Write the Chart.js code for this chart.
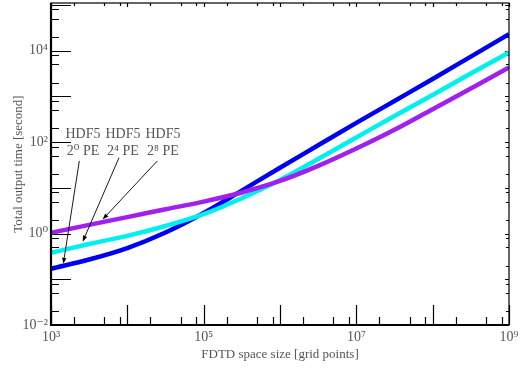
<!DOCTYPE html>
<html>
<head>
<meta charset="utf-8">
<script src="https://cdn.jsdelivr.net/npm/chart.js@4.4.1/dist/chart.umd.min.js"></script>
<style>
  html, body { margin: 0; padding: 0; background: #fff; }
  #wrap { width: 520px; height: 368px; }
</style>
</head>
<body>
<div id="wrap"><canvas id="ioChart" width="520" height="368"></canvas></div>
<script>
// grid sizes (x, half-decade steps) and output times in seconds (y)
const gridSizes = [1e3, 3162, 1e4, 31623, 1e5, 316228, 1e6, 3162278, 1e7, 31622777, 1e8, 316227766, 1e9];
const timePE1 = [0.17, 0.27, 0.48, 1.05, 2.8, 8.7, 27.5, 85, 263, 794, 2400, 7400, 22900];       // HDF5 2^0 PE
const timePE16 = [0.38, 0.59, 0.89, 1.46, 2.65, 5.9, 14.8, 42.7, 126, 372, 1070, 3160, 9120];    // HDF5 2^4 PE
const timePE256 = [1.04, 1.55, 2.29, 3.39, 5.0, 7.9, 14.1, 30.2, 72.4, 186, 525, 1480, 4270];     // HDF5 2^8 PE

const xTickLabels = [1e3, 1e5, 1e7, 1e9];
const yTickLabels = [1e-2, 1e0, 1e2, 1e4];
const minorMantissas = [2, 5, 8];

// annotation labels with arrows (data coords)
const noteLines = [['HDF5', '2⁰ PE'], ['HDF5', '2⁴ PE'], ['HDF5', '2⁸ PE']];
const noteX = [2625, 8770, 29300];
const noteY = [146, 64];
const arrowTail = [[2350, 38.7], [7780, 45.6], [24700, 38.7]];
const arrowHead = [[1450, 0.218], [2600, 0.664], [4750, 2.03]];

const sup = {'-': '⁻', '0': '⁰', '1': '¹', '2': '²', '3': '³', '4': '⁴', '5': '⁵', '6': '⁶', '7': '⁷', '8': '⁸', '9': '⁹'};
function powLabel(v) {
  const e = String(Math.round(Math.log10(v)));
  return '10' + e.split('').map(c => sup[c]).join('');
}

const serif = '"Liberation Serif", "DejaVu Serif", serif';
const grey = '#555';

function toPoints(ys) {
  return gridSizes.map((x, i) => ({x: x, y: ys[i]}));
}

const frameAndNotes = {
  id: 'frameAndNotes',
  beforeDatasetsDraw(chart) {
    const {ctx, chartArea: a, scales: {x, y}} = chart;
    ctx.save();
    ctx.strokeStyle = '#000';
    ctx.lineWidth = 1.2;
    ctx.beginPath();
    // inward ticks, long on left/bottom
    for (let k = -2; k <= 5; k++) {
      const vals = [[Math.pow(10, k), true]].concat(minorMantissas.map(m => [m * Math.pow(10, k), false]));
      vals.forEach(([v, major]) => {
        if (v < y.min || v > y.max) return;
        const py = Math.round(y.getPixelForValue(v)) + 0.5;
        ctx.moveTo(a.left, py); ctx.lineTo(a.left + (major ? 20 : 8), py);
        ctx.moveTo(a.right, py); ctx.lineTo(a.right - (major ? 4 : 3), py);
      });
    }
    for (let k = 3; k <= 9; k++) {
      const vals = [[Math.pow(10, k), true]].concat(minorMantissas.map(m => [m * Math.pow(10, k), false]));
      vals.forEach(([v, major]) => {
        if (v < x.min || v > x.max) return;
        const px = Math.round(x.getPixelForValue(v)) + 0.5;
        ctx.moveTo(px, a.bottom); ctx.lineTo(px, a.bottom - (major ? 20 : 8));
        ctx.moveTo(px, a.top); ctx.lineTo(px, a.top + (major ? 4 : 3));
      });
    }
    ctx.stroke();
    ctx.restore();
  },
  afterDatasetsDraw(chart) {
    const {ctx, chartArea: a, scales: {x, y}} = chart;
    ctx.save();
    // frame
    ctx.strokeStyle = '#000';
    ctx.lineWidth = 1.2;
    ctx.strokeRect(a.left, a.top, a.right - a.left, a.bottom - a.top);
    ctx.lineWidth = 2.2;
    ctx.beginPath();
    ctx.moveTo(a.left, a.top); ctx.lineTo(a.left, a.bottom); ctx.lineTo(a.right, a.bottom);
    ctx.stroke();

    // annotation text
    ctx.fillStyle = grey;
    ctx.font = '14px ' + serif;
    ctx.textAlign = 'center';
    ctx.textBaseline = 'middle';
    noteLines.forEach((lines, i) => {
      const px = x.getPixelForValue(noteX[i]);
      lines.forEach((t, j) => ctx.fillText(t, px, y.getPixelForValue(noteY[j])));
    });

    // arrows
    ctx.strokeStyle = '#000';
    ctx.fillStyle = '#000';
    ctx.lineWidth = 0.9;
    arrowTail.forEach((t, i) => {
      const x0 = x.getPixelForValue(t[0]), y0 = y.getPixelForValue(t[1]);
      const x1 = x.getPixelForValue(arrowHead[i][0]), y1 = y.getPixelForValue(arrowHead[i][1]);
      const ang = Math.atan2(y1 - y0, x1 - x0);
      const len = 6, w = 2.2;
      const bx = x1 - len * Math.cos(ang), by = y1 - len * Math.sin(ang);
      ctx.beginPath();
      ctx.moveTo(x0, y0); ctx.lineTo(bx, by);
      ctx.stroke();
      ctx.beginPath();
      ctx.moveTo(x1, y1);
      ctx.lineTo(bx + w * Math.sin(ang), by - w * Math.cos(ang));
      ctx.lineTo(bx - w * Math.sin(ang), by + w * Math.cos(ang));
      ctx.closePath();
      ctx.fill();
    });
    ctx.restore();
  }
};

const lineStyle = {
  borderWidth: 4.5,
  pointRadius: 0,
  fill: false,
  cubicInterpolationMode: 'monotone'
};

new Chart(document.getElementById('ioChart'), {
  type: 'line',
  data: {
    datasets: [
      Object.assign({label: 'HDF5 2^8 PE', data: toPoints(timePE256), borderColor: '#a020f0'}, lineStyle),
      Object.assign({label: 'HDF5 2^4 PE', data: toPoints(timePE16), borderColor: '#00f0f0'}, lineStyle),
      Object.assign({label: 'HDF5 2^0 PE', data: toPoints(timePE1), borderColor: '#0000f0'}, lineStyle)
    ]
  },
  options: {
    responsive: false,
    animation: false,
    devicePixelRatio: 1,
    layout: {padding: {left: 0, top: 3, right: 11, bottom: 0}},
    plugins: {legend: {display: false}, tooltip: {enabled: false}},
    scales: {
      x: {
        type: 'logarithmic',
        min: 1e3,
        max: 1e9,
        grid: {display: false, drawTicks: false},
        border: {display: false},
        afterBuildTicks(scale) { scale.ticks = xTickLabels.map(v => ({value: v})); },
        afterFit(scale) { scale.height = 43; scale.paddingLeft = 0; scale.paddingRight = 0; },
        ticks: {
          autoSkip: false,
          maxRotation: 0,
          padding: 4,
          color: grey,
          font: {family: serif, size: 14},
          callback: v => powLabel(v)
        },
        title: {
          display: true,
          text: 'FDTD space size [grid points]',
          color: grey,
          font: {family: serif, size: 13},
          padding: {top: 0, bottom: 6}
        }
      },
      y: {
        type: 'logarithmic',
        min: 1e-2,
        max: 1.1e5,
        grid: {display: false, drawTicks: false},
        border: {display: false},
        afterBuildTicks(scale) { scale.ticks = yTickLabels.map(v => ({value: v})); },
        afterFit(scale) { scale.width = 51; scale.paddingTop = 0; scale.paddingBottom = 0; },
        ticks: {
          autoSkip: false,
          padding: 3,
          color: grey,
          font: {family: serif, size: 14},
          callback: v => powLabel(v)
        },
        title: {
          display: true,
          text: 'Total output time [second]',
          color: grey,
          font: {family: serif, size: 13},
          padding: {top: 11, bottom: 0}
        }
      }
    }
  },
  plugins: [frameAndNotes]
});
</script>
</body>
</html>
